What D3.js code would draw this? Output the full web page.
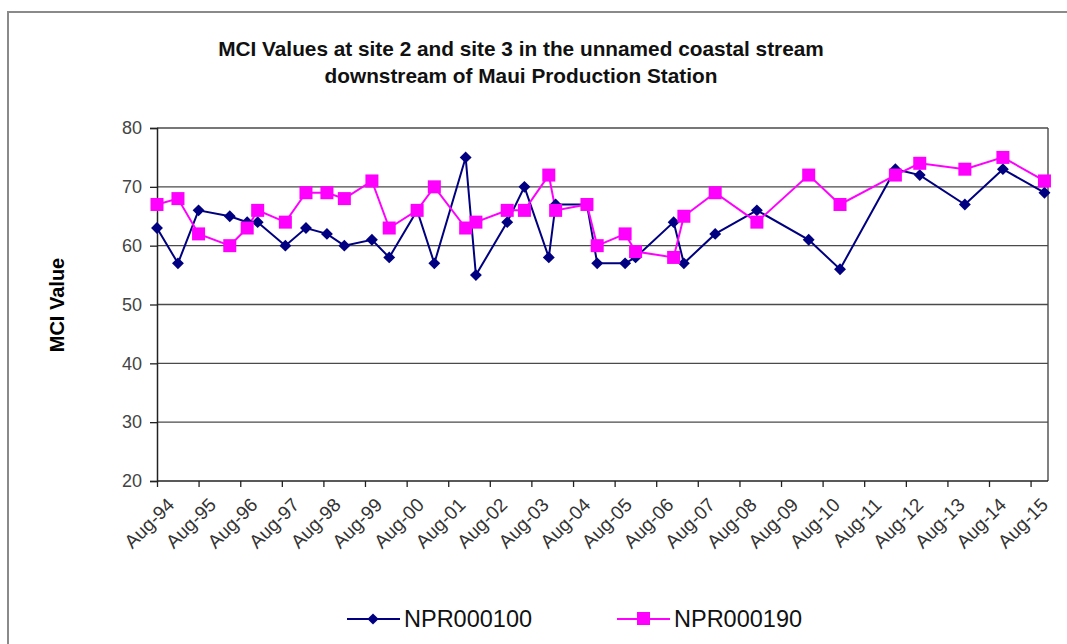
<!DOCTYPE html>
<html>
<head>
<meta charset="utf-8">
<script src="https://cdn.jsdelivr.net/npm/d3@7"></script>
<style>
  body { margin: 0; background: #fff; }
  svg text { font-family: "Liberation Sans", Arial, sans-serif; }
</style>
</head>
<body>
<svg id="chart" width="1067" height="644"></svg>
<script>
// sample dates (month of survey) shared by both sites
var sample_dates = ["1994-08","1995-02","1995-08","1996-05","1996-10","1997-01","1997-09","1998-03","1998-09","1999-02",
  "1999-10","2000-03","2000-11","2001-04","2002-01","2002-04","2003-01","2003-06","2004-01","2004-03",
  "2004-12","2005-03","2005-11","2006-02","2007-01","2007-04","2008-01","2009-01","2010-04","2011-01",
  "2012-05","2012-12","2014-01","2014-12","2015-12"];
var npr000100 = [63,57,66,65,64,64,60,63,62,60, 61,58,66,57,75,55,64,70,58,67, 67,57,57,58,64,57,62,66,61,56, 73,72,67,73,69];
var npr000190 = [67,68,62,60,63,66,64,69,69,68, 71,63,66,70,63,64,66,66,72,66, 67,60,62,59,58,65,69,64,72,67, 72,74,73,75,71];
var series_names = ["NPR000100","NPR000190"];
var x_tick_labels = ["Aug-94","Aug-95","Aug-96","Aug-97","Aug-98","Aug-99","Aug-00","Aug-01","Aug-02","Aug-03","Aug-04",
  "Aug-05","Aug-06","Aug-07","Aug-08","Aug-09","Aug-10","Aug-11","Aug-12","Aug-13","Aug-14","Aug-15"];
var y_ticks = [20,30,40,50,60,70,80];
var title_lines = ["MCI Values at site 2 and site 3 in the unnamed coastal stream","downstream of Maui Production Station"];

var parse_month = d3.timeParse("%Y-%m");
var parse_tick = d3.timeParse("%b-%y");

var plot_left = 157, plot_right = 1048, plot_top = 128, plot_bottom = 481;
var navy = "#000080", pink = "#ff00ff";

var svg = d3.select("#chart");

// outer frame
svg.append("rect").attr("x", 8).attr("y", 12).attr("width", 1100).attr("height", 700)
  .attr("fill", "none").attr("stroke", "#8a8a8a").attr("stroke-width", 2);

var x = d3.scaleTime().domain([parse_month("1994-08"), parse_month("2016-01")]).range([plot_left, plot_right]);
var y = d3.scaleLinear().domain([20, 80]).range([plot_bottom, plot_top]);

// gridlines
svg.append("g").selectAll("line").data(y_ticks.slice(1)).enter().append("line")
  .attr("x1", plot_left).attr("x2", plot_right).attr("y1", d => y(d)).attr("y2", d => y(d))
  .attr("stroke", "#4a4a4a").attr("stroke-width", 1.4);
svg.append("line").attr("x1", plot_right).attr("x2", plot_right).attr("y1", plot_top).attr("y2", plot_bottom)
  .attr("stroke", "#4a4a4a").attr("stroke-width", 1.4);

// y axis
var y_axis = svg.append("g").attr("transform", "translate(" + plot_left + ",0)")
  .call(d3.axisLeft(y).tickValues(y_ticks).tickSize(7).tickPadding(8));
y_axis.select(".domain").attr("stroke", "#222").attr("stroke-width", 1.5);
y_axis.selectAll(".tick line").attr("stroke", "#222").attr("stroke-width", 1.3);
y_axis.selectAll("text").attr("font-size", 18).attr("fill", "#444").attr("font-family", "Liberation Sans, Arial, sans-serif");

// x axis
var x_axis = svg.append("g").attr("transform", "translate(0," + plot_bottom + ")")
  .call(d3.axisBottom(x).tickValues(x_tick_labels.map(parse_tick)).tickSize(6).tickFormat(d3.timeFormat("%b-%y")));
x_axis.select(".domain").attr("stroke", "#222").attr("stroke-width", 1.5).attr("d", "M" + plot_left + ",0H" + plot_right);
x_axis.selectAll(".tick line").attr("stroke", "#222").attr("stroke-width", 1.3);
x_axis.selectAll("text").attr("font-size", 19).attr("fill", "#333").attr("font-family", "Liberation Sans, Arial, sans-serif")
  .attr("text-anchor", "end").attr("dy", "0.35em").attr("transform", "translate(7,14) rotate(-45)");

// lines and markers
var line = d3.line().x((d, i) => x(parse_month(sample_dates[i]))).y(d => y(d));

svg.append("path").datum(npr000100).attr("d", line).attr("fill", "none").attr("stroke", navy).attr("stroke-width", 2);
svg.append("path").datum(npr000190).attr("d", line).attr("fill", "none").attr("stroke", pink).attr("stroke-width", 2);

svg.append("g").selectAll("path").data(npr000100).enter().append("path")
  .attr("d", d3.symbol().type(d3.symbolDiamond2).size(90))
  .attr("transform", (d, i) => "translate(" + x(parse_month(sample_dates[i])) + "," + y(d) + ")")
  .attr("fill", navy);
svg.append("g").selectAll("rect").data(npr000190).enter().append("rect")
  .attr("x", (d, i) => x(parse_month(sample_dates[i])) - 6.5).attr("y", d => y(d) - 6.5)
  .attr("width", 13).attr("height", 13).attr("fill", pink);

// title
svg.append("g").selectAll("text").data(title_lines).enter().append("text")
  .attr("x", 521).attr("y", (d, i) => 56 + i * 27).attr("text-anchor", "middle")
  .attr("font-size", 20.8).attr("font-weight", "bold").attr("fill", "#111").text(d => d);

// y title
svg.append("text").attr("transform", "translate(64,305) rotate(-90)").attr("text-anchor", "middle")
  .attr("font-size", 20).attr("font-weight", "bold").attr("fill", "#000").text("MCI Value");

// legend
var legend = svg.append("g");
var legend_items = [{name: series_names[0], color: navy, x: 347}, {name: series_names[1], color: pink, x: 617}];
legend_items.forEach(function (it, k) {
  legend.append("line").attr("x1", it.x).attr("x2", it.x + 53).attr("y1", 619).attr("y2", 619)
    .attr("stroke", it.color).attr("stroke-width", 2);
  if (k == 0)
    legend.append("path").attr("d", d3.symbol().type(d3.symbolDiamond2).size(80))
      .attr("transform", "translate(" + (it.x + 26) + ",619)").attr("fill", it.color);
  else
    legend.append("rect").attr("x", it.x + 20).attr("y", 612).attr("width", 13).attr("height", 13).attr("fill", it.color);
  legend.append("text").attr("x", it.x + 57).attr("y", 627).attr("font-size", 23.5).attr("fill", "#111").text(it.name);
});
</script>
</body>
</html>
